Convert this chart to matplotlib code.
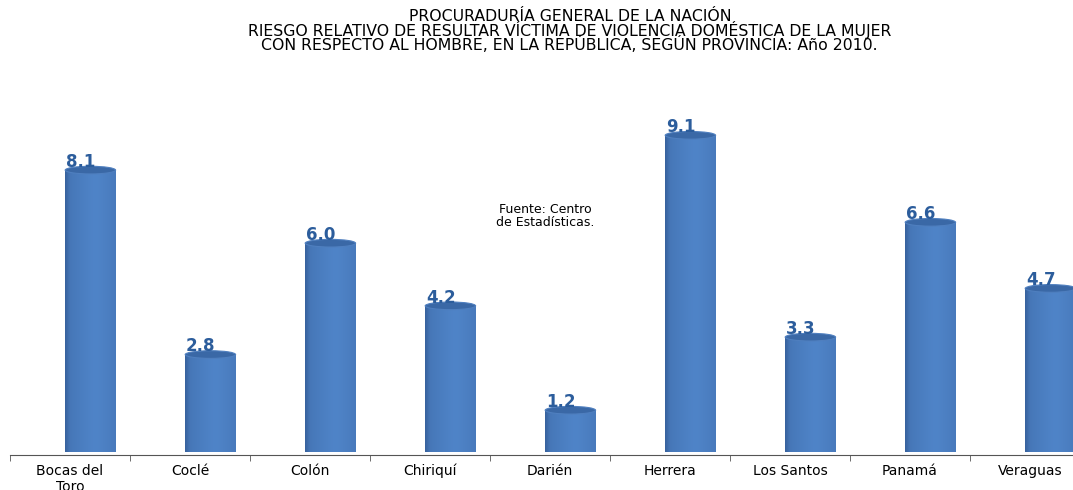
import numpy as np
import matplotlib
matplotlib.use("Agg")
import matplotlib.pyplot as plt
from matplotlib.patches import Ellipse, Rectangle

plt.rcParams['font.family'] = ['DejaVu Sans']

# datos del gráfico
provincias = ['Bocas del\nToro', 'Coclé', 'Colón', 'Chiriquí', 'Darién',
              'Herrera', 'Los Santos', 'Panamá', 'Veraguas']
riesgo = [8.1, 2.8, 6.0, 4.2, 1.2, 9.1, 3.3, 6.6, 4.7]
etiquetas = ['8.1', '2.8', '6.0', '4.2', '1.2', '9.1', '3.3', '6.6', '4.7']

titulo = ('PROCURADURÍA GENERAL DE LA NACIÓN\n'
          'RIESGO RELATIVO DE RESULTAR VÍCTIMA DE VIOLENCIA DOMÉSTICA DE LA MUJER\n'
          'CON RESPECTO AL HOMBRE, EN LA REPÚBLICA, SEGÚN PROVINCIA: Año 2010.')

fig = plt.figure(figsize=(10.73, 4.90), dpi=100)
# el eje se extiende un poco fuera de la imagen por la derecha
ax = fig.add_axes([10 / 1073, 38 / 490, 1080 / 1073, 348 / 490])
ax.set_xlim(-0.5, len(provincias) - 0.5)
ax.set_ylim(0, 10)

ancho = 0.42
desplaz = 0.17  # las barras están corridas a la derecha de la etiqueta
# gradiente horizontal para simular cilindros
grad = np.linspace(0, 1, 100)
perfil = 1 - 0.55 * np.abs(grad - 0.6) ** 1.2 - 0.35 * (grad < 0.1) * (0.1 - grad) * 10
perfil = np.clip(perfil, 0, 1)
base = np.array([0x4f, 0x84, 0xc8]) / 255
oscuro = np.array([0x2a, 0x4e, 0x85]) / 255
img = oscuro[None, :] + (base - oscuro)[None, :] * perfil[:, None]
img = img[None, :, :]

alto_elipse = 0.22
for i, v in enumerate(riesgo):
    xc = i + desplaz
    x0 = xc - ancho / 2
    rect = Rectangle((x0, 0), ancho, v, facecolor='none', edgecolor='none')
    ax.add_patch(rect)
    im = ax.imshow(img, extent=[x0, x0 + ancho, 0, v], aspect='auto', zorder=2)
    im.set_clip_path(rect)
    # tapa inferior
    ax.add_patch(Ellipse((xc, 0), ancho, alto_elipse, facecolor='#3e6fae',
                         edgecolor='none', zorder=1.9))
    # tapa superior
    ax.add_patch(Ellipse((xc, v), ancho, alto_elipse, facecolor='#3a68a6',
                         edgecolor='#4f7fbf', linewidth=0.8, zorder=3))
    ax.text(xc - 0.08, v - 0.02, etiquetas[i], ha='center', va='bottom',
            fontsize=12, fontweight='bold', color='#2c5d9c', zorder=4)

ax.set_xticks(range(len(provincias)))
ax.set_xticklabels(provincias, fontsize=12, linespacing=0.85)
ax.tick_params(axis='x', which='major', length=0, pad=6)
ax.set_xticks(np.arange(-0.5, len(provincias), 1), minor=True)
ax.tick_params(axis='x', which='minor', length=4, direction='out', color='#555555')
ax.set_yticks([])
for lado in ['left', 'right', 'top']:
    ax.spines[lado].set_visible(False)
ax.spines['bottom'].set_color('#555555')
ax.spines['bottom'].set_position(('data', -0.1))

fig.text(0.531, 0.982, titulo, ha='center', va='top', fontsize=11.3,
         linespacing=0.8)
fig.text(0.508, 0.559, 'Fuente: Centro\nde Estadísticas.', ha='center',
         va='center', fontsize=9, linespacing=1.0)

fig.savefig('out.png', dpi=100)
